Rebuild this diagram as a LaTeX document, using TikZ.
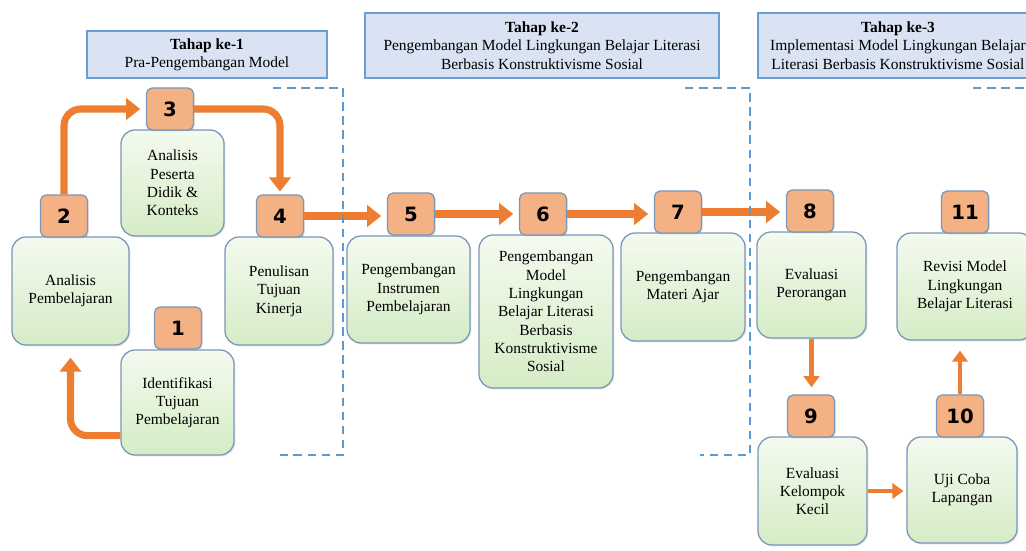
\documentclass[tikz,border=0pt]{standalone}
\usepackage{fontspec}
\setmainfont{Liberation Serif}
\newfontfamily\numfont{DejaVu Sans}
\usepackage{tikz}
\usetikzlibrary{arrows.meta,%
                shadows,positioning}

\definecolor{stepOrange}{HTML}{F4B183}
\definecolor{arrowOrange}{HTML}{ED7D31}
\definecolor{boxLine}{HTML}{7A97BA}
\definecolor{headFill}{HTML}{DAE3F3}
\definecolor{headLine}{HTML}{6A9FD4}
\definecolor{dashBlue}{HTML}{5B9BD5}
\definecolor{greenA}{HTML}{F4FAEF}
\definecolor{greenB}{HTML}{D5ECC6}

\tikzset{
  headbox/.style={draw=headLine, line width=0.9pt, fill=headFill, align=center,
    font=\fontsize{11}{13}\selectfont},
  stepbox/.style={draw=boxLine, line width=0.9pt, rounded corners=10pt,
    top color=greenA, bottom color=greenB, align=center,
    font=\fontsize{11}{13}\selectfont,
    drop shadow={opacity=0.2, shadow xshift=1pt, shadow yshift=-1pt}},
  numbox/.style={draw=boxLine, line width=0.9pt, rounded corners=4pt, fill=stepOrange,
    minimum width=1.175cm, minimum height=1.05cm,
    font=\numfont\bfseries\fontsize{14}{14}\selectfont,
    drop shadow={opacity=0.2, shadow xshift=1pt, shadow yshift=-1pt}},
  flowarrow/.style={draw=arrowOrange, line width=5pt, rounded corners=12pt,
    -{Triangle[width=15pt,length=10pt]}},
  smallarrow/.style={draw=arrowOrange, line width=3.5pt,
    -{Triangle[width=11pt,length=8pt]}},
  stagedash/.style={draw=dashBlue, line width=1.6pt, dash pattern=on 6pt off 4pt}
}

\begin{document}
\begin{tikzpicture}[x=0.025cm, y=-0.025cm]
\useasboundingbox (0,0) rectangle (1026,551);
\clip (0,0) rectangle (1026,551);

% tahap
\node[headbox, minimum width=6cm, minimum height=1.175cm] (h1) at (207,54.5)
  {\textbf{Tahap ke-1}\\Pra-Pengembangan Model};
\node[headbox, minimum width=8.85cm, minimum height=1.625cm] (h2) at (542,45.5)
  {\textbf{Tahap ke-2}\\Pengembangan Model Lingkungan Belajar Literasi\\Berbasis Konstruktivisme Sosial};
\node[headbox, minimum width=7cm, minimum height=1.625cm] (h3) at (898,45.5)
  {\textbf{Tahap ke-3}\\Implementasi Model Lingkungan Belajar\\Literasi Berbasis Konstruktivisme Sosial};

% langkah
\node[stepbox, minimum width=2.825cm, minimum height=2.625cm] (b1) at (177.5,402.5)
  {Identifikasi\\Tujuan\\Pembelajaran};
\node[stepbox, minimum width=2.925cm, minimum height=2.7cm] (b2) at (70.5,291)
  {Analisis\\Pembelajaran};
\node[stepbox, minimum width=2.575cm, minimum height=2.65cm] (b3) at (172.5,183)
  {Analisis\\Peserta\\Didik \&\\Konteks};
\node[stepbox, minimum width=2.7cm, minimum height=2.7cm] (b4) at (279,291)
  {Penulisan\\Tujuan\\Kinerja};
\node[stepbox, minimum width=3.075cm, minimum height=2.675cm] (b5) at (408.5,289.5)
  {Pengembangan\\Instrumen\\Pembelajaran};
\node[stepbox, minimum width=3.35cm, minimum height=3.825cm] (b6) at (546,311.5)
  {Pengembangan\\Model\\Lingkungan\\Belajar Literasi\\Berbasis\\Konstruktivisme\\Sosial};
\node[stepbox, minimum width=3.1cm, minimum height=2.7cm] (b7) at (683,287)
  {Pengembangan\\Materi Ajar};
\node[stepbox, minimum width=2.725cm, minimum height=2.65cm] (b8) at (811.5,285)
  {Evaluasi\\Perorangan};
\node[stepbox, minimum width=2.725cm, minimum height=2.7cm] (b9) at (812.5,491)
  {Evaluasi\\Kelompok\\Kecil};
\node[stepbox, minimum width=2.75cm, minimum height=2.65cm] (b10) at (962,490)
  {Uji Coba\\Lapangan};
\node[stepbox, minimum width=3.4cm, minimum height=2.675cm] (b11) at (965,286.5)
  {Revisi Model\\Lingkungan\\Belajar Literasi};

% nomor
\node[numbox] (n1) at (178,328) {1};
\node[numbox] (n2) at (64,216) {2};
\node[numbox] (n3) at (170,109) {3};
\node[numbox] (n4) at (280,216) {4};
\node[numbox] (n5) at (411,214) {5};
\node[numbox] (n6) at (543,214) {6};
\node[numbox] (n7) at (678,212) {7};
\node[numbox] (n8) at (810,211) {8};
\node[numbox] (n9) at (811,416) {9};
\node[numbox] (n10) at (960,416) {10};
\node[numbox] (n11) at (965,212) {11};

% alur
\draw[flowarrow] ([yshift=0.5cm]b1.south west) -| ([yshift=-0.3cm]b2.south);
\draw[flowarrow, shorten >=4pt] (n2.north) |- (n3.west);
\draw[flowarrow, shorten >=2pt] (n3.east) -| (n4.north);
\draw[flowarrow, shorten >=4pt] (n4.east) -- (n4.east -| n5.west);
\draw[flowarrow, shorten >=4pt] (n5.east) -- (n5.east -| n6.west);
\draw[flowarrow, shorten >=4pt] (n6.east) -- (n6.east -| n7.west);
\draw[flowarrow, shorten >=4pt] (n7.east) -- (n7.east -| n8.west);
\draw[smallarrow, shorten >=5pt] (b8.south) -- (b8.south |- n9.north);
\draw[smallarrow, shorten >=2pt] (b9.east) -- (b9.east -| b10.west);
\draw[smallarrow, shorten >=7pt] (n10.north) -- (n10.north |- b11.south);

% batas tahap
\draw[stagedash] (273,88) -| (343,455) -- (280,455);
\draw[stagedash] (685,88) -| (750,455) -- (700,455);
\draw[stagedash] (973,88) -- (1030,88);
\end{tikzpicture}
\end{document}
